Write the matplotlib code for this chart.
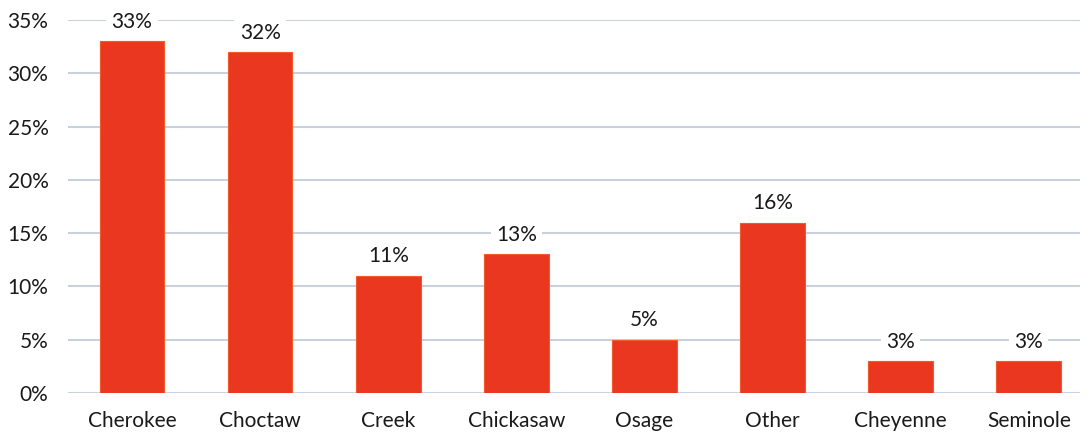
import matplotlib
matplotlib.use("Agg")
import matplotlib.pyplot as plt
from matplotlib.ticker import FuncFormatter

categories = ["Cherokee", "Choctaw", "Creek", "Chickasaw", "Osage", "Other", "Cheyenne", "Seminole"]
values = [33, 32, 11, 13, 5, 16, 3, 3]
yticks = [0, 5, 10, 15, 20, 25, 30, 35]

plt.rcParams['font.family'] = ['Lato', 'DejaVu Sans']

fig = plt.figure(figsize=(10.89, 4.37), dpi=100)
ax = fig.add_axes([0.0624, 0.1007, 0.9293, 0.8533])

x = list(range(len(categories)))
ax.bar(x, values, width=0.505, color='#ea3820', edgecolor='#f25a2a', linewidth=0.8, zorder=3)

for xi, v in zip(x, values):
    ax.annotate(f"{v}%", (xi, v), xytext=(0, 14), textcoords='offset points',
                ha='center', va='center', fontsize=15, color='#1a1a1a', zorder=4,
                bbox=dict(boxstyle='square,pad=0.25', fc='white', ec='none'))

ax.set_xlim(-0.5, 7.4)
ax.set_ylim(0, 35)
ax.set_yticks(yticks)
ax.yaxis.set_major_formatter(FuncFormatter(lambda v, p: f"{int(v)}%"))
ax.set_xticks(x)
ax.set_xticklabels(categories)
ax.grid(axis='y', color='#c9d1de', linewidth=1.5, zorder=0)
ax.set_axisbelow(True)
for s in ax.spines.values():
    s.set_visible(False)
ax.tick_params(axis='both', length=0, labelsize=15, colors='#1a1a1a')
ax.tick_params(axis='y', pad=14)
ax.tick_params(axis='x', pad=13)
for lbl in ax.get_yticklabels():
    lbl.set_horizontalalignment('right')

fig.savefig("out.png", dpi=100, facecolor='white')
